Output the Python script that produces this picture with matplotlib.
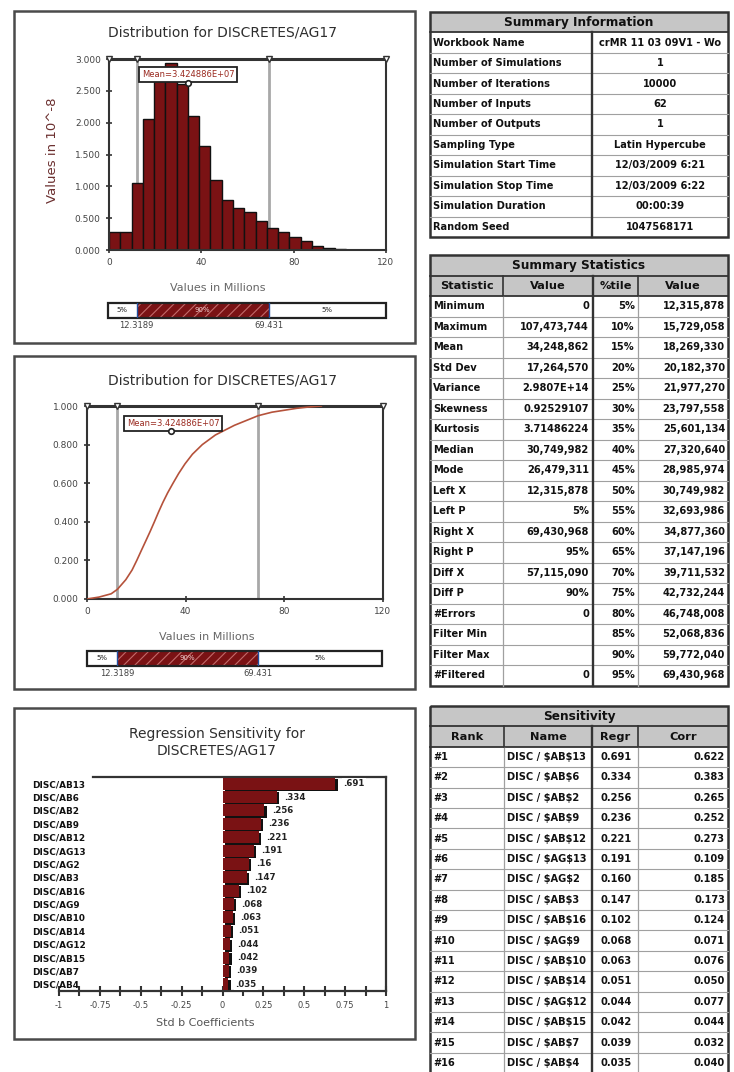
import matplotlib
matplotlib.use('Agg')
import matplotlib.pyplot as plt
from matplotlib.patches import Rectangle
import numpy as np

plt.rcParams['font.family'] = ['DejaVu Sans']
plt.rcParams['hatch.linewidth'] = 0.8

# ---------------- data ----------------
chart_title = "Distribution for DISCRETES/AG17"
x_label = "Values in Millions"
pdf_ylabel = "Values in 10^-8"
mean_label = "Mean=3.424886E+07"
mean_value = 34.248862          # millions
left_x = 12.3189
right_x = 69.431
band_labels = ["5%", "90%", "5%"]
hist_max = 107.473744           # millions (maximum of the simulation)
hist_density = [0.29, 0.29, 1.06, 2.05, 2.80, 2.94, 2.61, 2.10, 1.63, 1.10, 0.79,
                0.66, 0.60, 0.46, 0.34, 0.29, 0.21, 0.14, 0.07, 0.03, 0.01, 0.005]
cdf_x = [0, 4.9, 9.8, 12.316, 15.729, 18.269, 20.182, 21.977, 23.798, 25.601, 27.321,
         28.986, 30.750, 32.694, 34.877, 37.147, 39.712, 42.732, 46.748, 52.069,
         59.772, 69.431, 75.0, 80.0, 85.0, 90.0, 95.0]
cdf_p = [0, 0.010, 0.027, 0.05, 0.10, 0.15, 0.20, 0.25, 0.30, 0.35, 0.40, 0.45, 0.50,
         0.55, 0.60, 0.65, 0.70, 0.75, 0.80, 0.85, 0.90, 0.95, 0.968, 0.978, 0.988,
         0.995, 1.0]
dist_xticks = [0, 40, 80, 120]
pdf_yticks = [0, 0.5, 1.0, 1.5, 2.0, 2.5, 3.0]
cdf_yticks = [0, 0.2, 0.4, 0.6, 0.8, 1.0]

sens_title = "Regression Sensitivity for\nDISCRETES/AG17"
sens_xlabel = "Std b Coefficients"
sens_names = ["DISC/AB13", "DISC/AB6", "DISC/AB2", "DISC/AB9", "DISC/AB12", "DISC/AG13",
              "DISC/AG2", "DISC/AB3", "DISC/AB16", "DISC/AG9", "DISC/AB10", "DISC/AB14",
              "DISC/AG12", "DISC/AB15", "DISC/AB7", "DISC/AB4"]
sens_regr = [0.691, 0.334, 0.256, 0.236, 0.221, 0.191, 0.160, 0.147, 0.102, 0.068,
             0.063, 0.051, 0.044, 0.042, 0.039, 0.035]
sens_corr = [0.622, 0.383, 0.265, 0.252, 0.273, 0.109, 0.185, 0.173, 0.124, 0.071,
             0.076, 0.050, 0.077, 0.044, 0.032, 0.040]
sens_table_names = ["DISC / $AB$13", "DISC / $AB$6", "DISC / $AB$2", "DISC / $AB$9",
                    "DISC / $AB$12", "DISC / $AG$13", "DISC / $AG$2", "DISC / $AB$3",
                    "DISC / $AB$16", "DISC / $AG$9", "DISC / $AB$10", "DISC / $AB$14",
                    "DISC / $AG$12", "DISC / $AB$15", "DISC / $AB$7", "DISC / $AB$4"]
sens_xticks = [-1, -0.75, -0.5, -0.25, 0, 0.25, 0.5, 0.75, 1]
sens_xticklabels = ["-1", "-0.75", "-0.5", "-0.25", "0", "0.25", "0.5", "0.75", "1"]

info_labels = ["Workbook Name", "Number of Simulations", "Number of Iterations",
               "Number of Inputs", "Number of Outputs", "Sampling Type",
               "Simulation Start Time", "Simulation Stop Time", "Simulation Duration",
               "Random Seed"]
info_values = ["crMR 11 03 09V1 - Wo", "1", "10000", "62", "1", "Latin Hypercube",
               "12/03/2009 6:21", "12/03/2009 6:22", "00:00:39", "1047568171"]

stat_labels = ["Minimum", "Maximum", "Mean", "Std Dev", "Variance", "Skewness",
               "Kurtosis", "Median", "Mode", "Left X", "Left P", "Right X", "Right P",
               "Diff X", "Diff P", "#Errors", "Filter Min", "Filter Max", "#Filtered"]
stat_values = ["0", "107,473,744", "34,248,862", "17,264,570", "2.9807E+14",
               "0.92529107", "3.71486224", "30,749,982", "26,479,311", "12,315,878",
               "5%", "69,430,968", "95%", "57,115,090", "90%", "0", "", "", "0"]
pct_labels = ["5%", "10%", "15%", "20%", "25%", "30%", "35%", "40%", "45%", "50%",
              "55%", "60%", "65%", "70%", "75%", "80%", "85%", "90%", "95%"]
pct_values = ["12,315,878", "15,729,058", "18,269,330", "20,182,370", "21,977,270",
              "23,797,558", "25,601,134", "27,320,640", "28,985,974", "30,749,982",
              "32,693,986", "34,877,360", "37,147,196", "39,711,532", "42,732,244",
              "46,748,008", "52,068,836", "59,772,040", "69,430,968"]

# ---------------- style ----------------
W, H = 734, 1072
RED = '#7a1214'
DARK = '#333333'
fig = plt.figure(figsize=(W / 100, H / 100), dpi=100)


def add_ax(l, t, r, b):
    return fig.add_axes([l / W, 1 - b / H, (r - l) / W, (b - t) / H])


def ftext(x, y, s, **kw):
    return fig.text(x / W, 1 - y / H, s, **kw)


bg = fig.add_axes([0, 0, 1, 1])
bg.set_xlim(0, W)
bg.set_ylim(H, 0)
bg.axis('off')

# panel boxes
for (t, b) in [(11, 343), (356, 689), (708, 1039)]:
    bg.add_patch(Rectangle((14, t), 401, b - t, fill=False, ec='#4a4a4a', lw=1.8))


def style_axes(ax):
    for s in ax.spines.values():
        s.set_color(DARK)
        s.set_linewidth(1.5)
    ax.spines['top'].set_linewidth(2.2)
    ax.tick_params(direction='inout', length=5, width=1.2, colors=DARK,
                   labelsize=6.5, labelcolor='#444444')


def top_markers(ax, ytop):
    ax.plot([0, left_x, right_x, 120], [ytop] * 4, ls='none', marker='v', ms=4.5,
            mfc='white', mec=DARK, mew=1.0, clip_on=False, zorder=6)


def band(l, t, r, b, lab_y):
    ax = add_ax(l, t, r, b)
    ax.set_xlim(0, 120)
    ax.set_ylim(0, 1)
    ax.axis('off')
    ax.add_patch(Rectangle((0, 0), left_x, 1, fc='white', ec='none'))
    ax.add_patch(Rectangle((left_x, 0), right_x - left_x, 1, fc=RED, ec='#c26a6a',
                           lw=0, hatch='///'))
    ax.add_patch(Rectangle((right_x, 0), 120 - right_x, 1, fc='white', ec='none'))
    ax.axvline(left_x, color='#1f4f9f', lw=1.0)
    ax.axvline(right_x, color='#1f4f9f', lw=1.0)
    ax.add_patch(Rectangle((0, 0), 120, 1, fill=False, ec='#222222', lw=1.6,
                           clip_on=False))
    centers = [left_x / 2, (left_x + right_x) / 2, (right_x + 120) / 2]
    colors = ['#222222', '#f0d0d0', '#222222']
    for cx, s, c in zip(centers, band_labels, colors):
        ax.text(cx, 0.5, s, ha='center', va='center', fontsize=5, color=c)
    y_fig = 1 - lab_y / H
    for v in (left_x, right_x):
        xf = ax.transData.transform((v, 0))[0] / fig.dpi / fig.get_figwidth()
        fig.text(xf, y_fig, f"{v:g}", ha='center', va='center', fontsize=6,
                 color='#444444')


def mean_box(ax, x, y):
    ax.text(x, y, mean_label, ha='center', va='center', fontsize=6, color='#9a2a20',
            zorder=7, bbox=dict(boxstyle='square,pad=0.35', fc='white', ec='#222222',
                                lw=1.3))


# ---------------- chart 1: histogram ----------------
ax1 = add_ax(109, 59, 386, 250)
edges = np.linspace(0, hist_max, len(hist_density) + 1)
ax1.bar(edges[:-1], hist_density, width=np.diff(edges), align='edge', color=RED,
        edgecolor='#111111', linewidth=1.0, zorder=2)
for v in (left_x, right_x):
    ax1.axvline(v, color='#a8a8a8', lw=2, zorder=1)
ax1.set_xlim(0, 120)
ax1.set_ylim(0, 3.0)
ax1.set_xticks(dist_xticks)
ax1.set_yticks(pdf_yticks)
ax1.set_yticklabels([f"{v:.3f}" for v in pdf_yticks])
style_axes(ax1)
top_markers(ax1, 3.0)
mean_box(ax1, 34.3, 2.76)
ax1.plot([mean_value], [2.62], marker='o', ms=4, mfc='white', mec='#222222', mew=1.2,
         zorder=8)
ftext(222, 33, chart_title, ha='center', va='center', fontsize=10, color='#2e2e2e')
ftext(53, 150, pdf_ylabel, ha='center', va='center', rotation=90, fontsize=9.5,
      color='#6b2f2f')
ftext(218, 288, x_label, ha='center', va='center', fontsize=8, color='#666666')
band(108, 303, 386, 318, 325)

# ---------------- chart 2: cumulative ----------------
ax2 = add_ax(87, 406, 383, 599)
for v in (left_x, right_x):
    ax2.axvline(v, color='#a8a8a8', lw=2, zorder=1)
ax2.plot(cdf_x, cdf_p, color='#b5523b', lw=1.2, zorder=3)
ax2.set_xlim(0, 120)
ax2.set_ylim(0, 1.0)
ax2.set_xticks(dist_xticks)
ax2.set_yticks(cdf_yticks)
ax2.set_yticklabels([f"{v:.3f}" for v in cdf_yticks])
style_axes(ax2)
top_markers(ax2, 1.0)
mean_box(ax2, 34.9, 0.91)
ax2.plot([mean_value], [0.87], marker='o', ms=4, mfc='white', mec='#222222', mew=1.2,
         zorder=8)
ftext(222, 381, chart_title, ha='center', va='center', fontsize=10, color='#2e2e2e')
ftext(207, 637, x_label, ha='center', va='center', fontsize=8, color='#666666')
band(87, 651, 382, 666, 674)

# ---------------- chart 3: tornado ----------------
ax3 = add_ax(59, 777, 386, 991)
ypos = np.arange(len(sens_regr))
ax3.barh(ypos + 0.1, sens_regr, left=0.014, height=0.9, color='#111111', zorder=2)
ax3.barh(ypos, sens_regr, height=0.9, color=RED, zorder=3)
for y, v in zip(ypos, sens_regr):
    s = (f"{v:.3f}").lstrip('0').rstrip('0')
    ax3.text(v + 0.045, y, s, ha='left', va='center', fontsize=6.2, fontweight='bold',
             color='#222222', zorder=5,
             bbox=dict(boxstyle='square,pad=0.15', fc='white', ec='none'))
ax3.set_xlim(-1, 1)
ax3.set_ylim(len(sens_regr) - 0.5, -0.5)
ax3.set_yticks(ypos)
ax3.set_yticklabels(sens_names, ha='left', fontsize=6.4, fontweight='bold',
                    color='#111111')
ax3.tick_params(axis='y', length=0, pad=19)
ax3.set_xticks(sens_xticks)
ax3.set_xticklabels(sens_xticklabels)
ax3.set_xticks(np.array(sens_xticks[:-1]) + 0.125, minor=True)
ax3.tick_params(axis='x', which='both', direction='inout', length=7, width=1.5,
                colors=DARK, labelsize=6, labelcolor='#444444')
for s in ('top', 'left'):
    ax3.spines[s].set_visible(False)
for s in ('right', 'bottom'):
    ax3.spines[s].set_color(DARK)
    ax3.spines[s].set_linewidth(1.6)
ax3.plot([-0.79, 1], [-0.5, -0.5], color=DARK, lw=1.6, clip_on=False, zorder=1)
ftext(217, 742, sens_title, ha='center', va='center', fontsize=10, color='#2e2e2e',
      linespacing=1.25)
ftext(205, 1023, sens_xlabel, ha='center', va='center', fontsize=8, color='#555555')

# ---------------- tables ----------------
GRAY = '#c6c6c6'
LINE = '#a0a0a0'
TXT = '#111111'
FS = 7.1


def cell_clip(x0, x1, y0, y1):
    return Rectangle((x0, y0), x1 - x0, y1 - y0, transform=bg.transData)


def ttext(x, y, s, ha='left', size=FS, clip=None):
    t = bg.text(x, y, s, ha=ha, va='center', fontsize=size, fontweight='bold',
                color=TXT, parse_math=False)
    if clip is not None:
        t.set_clip_on(True)
        t.set_clip_path(clip)
    return t


def table_frame(x0, x1, top, rh, nrows, n_head, thick_cols, thin_cols, title,
                head_cols=None, head_labels=None):
    bottom = top + rh * nrows
    bg.add_patch(Rectangle((x0, top), x1 - x0, rh * n_head, fc=GRAY, ec='none'))
    for i in range(n_head + 1, nrows):
        y = top + rh * i
        bg.plot([x0, x1], [y, y], color=LINE, lw=0.8)
    for i in range(1, n_head + 1):
        y = top + rh * i
        bg.plot([x0, x1], [y, y], color=DARK, lw=1.3)
    for c in thin_cols:
        bg.plot([c, c], [top + rh * n_head, bottom], color=LINE, lw=0.9)
        if n_head > 1:
            bg.plot([c, c], [top + rh, top + rh * n_head], color=DARK, lw=1.2)
    for c in thick_cols:
        bg.plot([c, c], [top + rh, bottom], color=DARK, lw=1.7)
    bg.add_patch(Rectangle((x0, top), x1 - x0, bottom - top, fill=False, ec=DARK,
                           lw=1.8))
    ttext((x0 + x1) / 2, top + rh / 2 + 0.5, title, ha='center', size=8.7)
    if head_cols is not None:
        for (a, b), s in zip(head_cols, head_labels):
            ttext((a + b) / 2, top + rh * 1.5 + 0.5, s, ha='center', size=8.2)
    return bottom


# Table 1: Summary Information
T1x = [430, 592, 728]
t1_top, rh1 = 12, 20.45
table_frame(T1x[0], T1x[2], t1_top, rh1, len(info_labels) + 1, 1, [T1x[1]], [],
            "Summary Information")
for i, (lab, val) in enumerate(zip(info_labels, info_values)):
    yc = t1_top + rh1 * (i + 1.5)
    ttext(433, yc, lab)
    ttext((T1x[1] + T1x[2]) / 2, yc, val, ha='center',
          clip=cell_clip(T1x[1], T1x[2], yc - rh1 / 2, yc + rh1 / 2))

# Table 2: Summary Statistics
T2x = [430, 503, 593, 638, 728]
t2_top, rh2 = 255, 20.5
table_frame(T2x[0], T2x[4], t2_top, rh2, len(stat_labels) + 2, 2, [T2x[2]],
            [T2x[1], T2x[3]], "Summary Statistics",
            head_cols=list(zip(T2x[:-1], T2x[1:])),
            head_labels=["Statistic", "Value", "%tile", "Value"])
for i in range(len(stat_labels)):
    yc = t2_top + rh2 * (i + 2.5)
    ttext(433, yc, stat_labels[i])
    ttext(T2x[2] - 4, yc, stat_values[i], ha='right')
    ttext(T2x[3] - 3, yc, pct_labels[i], ha='right')
    ttext(T2x[4] - 3, yc, pct_values[i], ha='right')

# Table 3: Sensitivity
T3x = [430, 504, 592, 638, 728]
t3_top, rh3 = 706, 20.4
table_frame(T3x[0], T3x[4], t3_top, rh3, len(sens_regr) + 2, 2, [T3x[2]],
            [T3x[1], T3x[3]], "Sensitivity",
            head_cols=list(zip(T3x[:-1], T3x[1:])),
            head_labels=["Rank", "Name", "Regr", "Corr"])
for i in range(len(sens_regr)):
    yc = t3_top + rh3 * (i + 2.5)
    ttext(433, yc, f"#{i + 1}")
    ttext(T3x[1] + 3, yc, sens_table_names[i],
          clip=cell_clip(T3x[1], T3x[2] - 1, yc - rh3 / 2, yc + rh3 / 2))
    ttext((T3x[2] + T3x[3]) / 2 + 1, yc, f"{sens_regr[i]:.3f}", ha='center')
    ttext(T3x[4] - 3, yc, f"{sens_corr[i]:.3f}", ha='right')

fig.savefig('out.png', dpi=100)
